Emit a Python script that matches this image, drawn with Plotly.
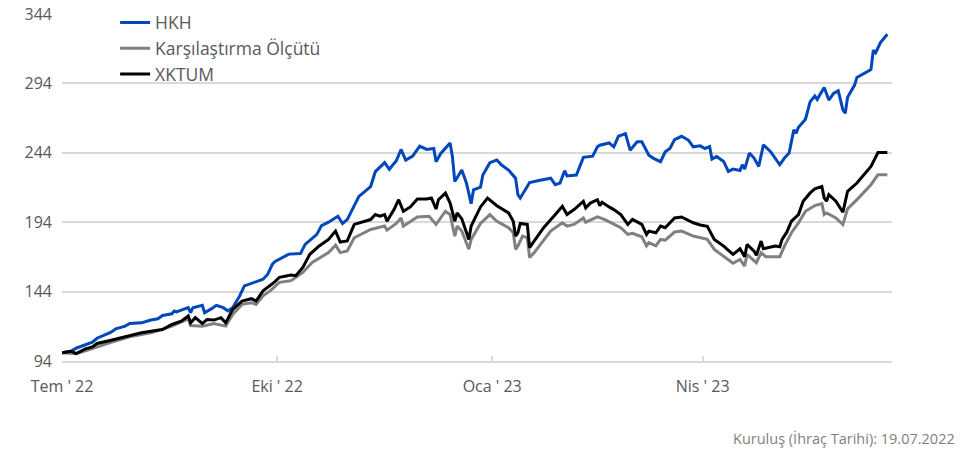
import plotly.graph_objects as go

# ---------------- data ----------------
hkh_dates = ["2022-07-19","2022-07-23","2022-07-25","2022-07-29","2022-08-01","2022-08-03","2022-08-07","2022-08-09",
             "2022-08-11","2022-08-15","2022-08-17","2022-08-22","2022-08-26","2022-08-29","2022-08-31","2022-09-04",
             "2022-09-05","2022-09-06","2022-09-08","2022-09-11","2022-09-12","2022-09-13","2022-09-17","2022-09-18",
             "2022-09-21","2022-09-23","2022-09-26","2022-09-28","2022-09-30","2022-10-03","2022-10-05","2022-10-09",
             "2022-10-13","2022-10-15","2022-10-17","2022-10-18","2022-10-20","2022-10-24","2022-10-29","2022-10-31",
             "2022-11-05","2022-11-07","2022-11-10","2022-11-12","2022-11-14","2022-11-16","2022-11-18","2022-11-23",
             "2022-11-28","2022-11-30","2022-12-04","2022-12-06","2022-12-09","2022-12-11","2022-12-13","2022-12-16",
             "2022-12-19","2022-12-22","2022-12-25","2022-12-26","2022-12-28","2023-01-01","2023-01-02","2023-01-03",
             "2023-01-06","2023-01-08","2023-01-10","2023-01-11","2023-01-14","2023-01-15","2023-01-18","2023-01-21",
             "2023-01-23","2023-01-26","2023-01-29","2023-01-30","2023-01-31","2023-02-03","2023-02-04","2023-02-08",
             "2023-02-13","2023-02-15","2023-02-17","2023-02-19","2023-02-20","2023-02-24","2023-02-26","2023-02-27",
             "2023-03-03","2023-03-05","2023-03-06","2023-03-10","2023-03-12","2023-03-14","2023-03-17","2023-03-19",
             "2023-03-22","2023-03-24","2023-03-27","2023-03-29","2023-04-01","2023-04-03","2023-04-05","2023-04-07",
             "2023-04-10","2023-04-13","2023-04-15","2023-04-18","2023-04-20","2023-04-22","2023-04-23","2023-04-25",
             "2023-04-28","2023-04-30","2023-05-02","2023-05-05","2023-05-06","2023-05-07","2023-05-09","2023-05-11",
             "2023-05-13","2023-05-15","2023-05-18","2023-05-22","2023-05-24","2023-05-26","2023-05-28","2023-05-29",
             "2023-05-30","2023-06-02","2023-06-04","2023-06-06","2023-06-07","2023-06-10","2023-06-12","2023-06-14",
             "2023-06-16","2023-06-18","2023-06-19","2023-06-20","2023-06-23","2023-06-24","2023-06-30","2023-07-01",
             "2023-07-02","2023-07-04","2023-07-07"]
hkh_values = [100.0,101.2,103.2,105.8,107.5,110.4,113.6,114.8,
              117.2,119.1,121.0,121.5,123.5,124.4,126.8,128.0,
              130.0,129.3,130.7,132.4,128.8,132.4,134.1,128.8,
              131.7,134.1,132.4,130.0,132.4,140.9,148.1,150.5,
              152.9,156.5,163.8,165.5,167.4,171.0,171.4,178.0,
              185.2,191.6,194.0,195.9,198.3,193.1,195.9,212.6,
              219.7,230.4,236.9,232.1,238.3,246.4,238.8,241.6,
              248.8,246.4,247.1,237.6,243.5,251.1,241.1,223.3,
              231.6,222.1,207.3,217.3,219.2,228.0,236.9,238.8,
              235.2,231.6,225.7,213.8,211.4,219.7,222.6,224.0,
              225.7,221.0,222.2,231.1,227.3,228.0,236.4,240.7,
              241.6,248.3,249.5,251.1,248.3,255.9,257.8,245.9,
              251.9,251.9,242.3,240.0,237.6,244.7,247.1,253.5,
              255.9,253.0,248.3,249.0,247.1,248.5,239.5,241.4,
              237.8,230.6,232.3,231.3,235.4,232.3,243.8,240.2,
              234.2,249.7,245.0,235.4,240.2,243.8,260.5,258.1,
              262.4,268.2,280.8,284.9,282.5,291.1,282.0,286.8,
              288.7,274.9,272.5,284.0,292.8,298.3,304.0,317.9,
              316.0,323.2,329.4]

bench_dates = ["2022-07-19","2022-07-25","2022-08-01","2022-08-09","2022-08-18","2022-08-26","2022-09-04","2022-09-11",
               "2022-09-12","2022-09-17","2022-09-22","2022-09-27","2022-09-30","2022-10-04","2022-10-08","2022-10-10",
               "2022-10-13","2022-10-16","2022-10-18","2022-10-20","2022-10-25","2022-10-30","2022-11-03","2022-11-10",
               "2022-11-13","2022-11-15","2022-11-18","2022-11-21","2022-11-28","2022-12-04","2022-12-05","2022-12-09",
               "2022-12-11","2022-12-12","2022-12-18","2022-12-23","2022-12-26","2022-12-30","2023-01-01","2023-01-03",
               "2023-01-04","2023-01-06","2023-01-09","2023-01-10","2023-01-14","2023-01-18","2023-01-21","2023-01-26",
               "2023-01-28","2023-01-29","2023-01-30","2023-02-01","2023-02-03","2023-02-04","2023-02-06","2023-02-13",
               "2023-02-18","2023-02-20","2023-02-23","2023-02-27","2023-02-28","2023-03-05","2023-03-08","2023-03-12",
               "2023-03-15","2023-03-18","2023-03-20","2023-03-24","2023-03-26","2023-03-27","2023-03-30","2023-04-01",
               "2023-04-03","2023-04-07","2023-04-10","2023-04-15","2023-04-18","2023-04-21","2023-04-24","2023-04-28",
               "2023-05-02","2023-05-05","2023-05-07","2023-05-08","2023-05-12","2023-05-14","2023-05-16","2023-05-22",
               "2023-05-24","2023-05-27","2023-05-30","2023-06-02","2023-06-06","2023-06-09","2023-06-10","2023-06-11",
               "2023-06-15","2023-06-18","2023-06-20","2023-06-24","2023-06-28","2023-06-30","2023-07-03","2023-07-07"]
bench_values = [100.0,99.3,102.9,107.5,111.9,114.3,119.1,124.4,
                119.6,119.1,121.0,119.1,127.6,134.8,136.0,134.8,
                140.9,144.5,147.6,150.7,151.9,157.8,165.0,172.1,
                177.4,172.1,173.3,182.8,188.8,191.2,188.3,193.1,
                197.1,191.2,197.8,198.3,192.4,201.9,199.5,184.0,
                191.2,187.6,174.5,181.6,193.1,199.5,194.7,190.0,
                186.4,174.5,176.9,184.0,182.8,168.6,172.1,187.6,
                193.6,191.2,192.4,197.1,194.0,197.8,196.0,192.4,
                190.0,185.2,186.0,183.5,176.9,179.3,176.9,181.6,
                181.1,186.9,187.6,184.0,183.0,181.6,174.4,169.6,
                164.4,167.2,162.4,170.8,164.8,172.0,169.1,169.1,
                176.8,186.4,193.5,201.9,206.0,207.4,199.5,200.7,
                197.1,192.3,203.6,210.3,217.9,221.0,228.2,228.2]

xktum_dates = ["2022-07-19","2022-07-23","2022-07-25","2022-07-29","2022-08-01","2022-08-03","2022-08-09","2022-08-13",
               "2022-08-18","2022-08-22","2022-08-26","2022-08-31","2022-09-04","2022-09-08","2022-09-11","2022-09-12",
               "2022-09-14","2022-09-17","2022-09-19","2022-09-22","2022-09-25","2022-09-27","2022-09-30","2022-10-04",
               "2022-10-08","2022-10-10","2022-10-13","2022-10-16","2022-10-18","2022-10-20","2022-10-25","2022-10-27",
               "2022-10-30","2022-11-02","2022-11-06","2022-11-10","2022-11-13","2022-11-15","2022-11-18","2022-11-21",
               "2022-11-24","2022-11-28","2022-11-30","2022-12-02","2022-12-04","2022-12-05","2022-12-08","2022-12-10",
               "2022-12-12","2022-12-15","2022-12-18","2022-12-22","2022-12-24","2022-12-26","2022-12-27","2022-12-30",
               "2023-01-01","2023-01-03","2023-01-04","2023-01-06","2023-01-09","2023-01-10","2023-01-14","2023-01-17",
               "2023-01-21","2023-01-26","2023-01-28","2023-01-29","2023-01-30","2023-01-31","2023-02-03","2023-02-04",
               "2023-02-06","2023-02-10","2023-02-15","2023-02-18","2023-02-20","2023-02-23","2023-02-27","2023-02-28",
               "2023-03-02","2023-03-05","2023-03-06","2023-03-07","2023-03-10","2023-03-12","2023-03-15","2023-03-18",
               "2023-03-20","2023-03-24","2023-03-26","2023-03-27","2023-03-30","2023-04-01","2023-04-03","2023-04-07",
               "2023-04-10","2023-04-15","2023-04-18","2023-04-21","2023-04-24","2023-04-28","2023-05-02","2023-05-05",
               "2023-05-07","2023-05-08","2023-05-11","2023-05-12","2023-05-14","2023-05-15","2023-05-20","2023-05-22",
               "2023-05-23","2023-05-25","2023-05-27","2023-05-30","2023-06-01","2023-06-04","2023-06-06","2023-06-09",
               "2023-06-10","2023-06-11","2023-06-12","2023-06-15","2023-06-18","2023-06-20","2023-06-24","2023-06-28",
               "2023-06-30","2023-07-03","2023-07-07"]
xktum_values = [100.0,101.0,99.3,102.7,104.1,106.6,109.0,110.7,
                113.1,114.3,115.5,116.7,120.3,122.7,126.4,121.5,
                125.2,121.0,123.9,123.5,125.2,121.5,131.2,137.2,
                138.9,137.2,144.5,148.1,151.0,154.3,155.9,155.5,
                161.4,170.9,176.9,181.6,187.6,179.7,180.5,192.4,
                194.0,195.9,199.5,198.3,199.5,194.7,203.1,210.2,
                201.9,205.0,210.7,210.7,211.4,203.5,210.2,215.0,
                207.8,194.7,200.7,196.4,181.6,191.2,205.0,211.4,
                205.9,200.7,194.7,184.0,186.4,193.1,192.4,175.7,
                180.5,190.0,199.5,205.4,199.5,203.1,209.0,204.3,
                207.8,210.2,205.9,208.3,205.0,203.1,199.5,192.4,
                196.0,192.4,185.2,187.6,186.4,191.2,190.0,197.1,
                197.8,193.6,192.0,191.1,181.6,176.8,170.8,174.9,
                169.1,178.0,173.2,170.1,180.4,174.9,176.8,176.3,
                181.6,186.8,194.7,199.5,209.1,215.1,218.0,219.8,
                211.5,209.1,213.9,209.1,201.2,216.3,222.2,230.6,
                234.2,244.2,244.2]

series_names = ["HKH", "Karşılaştırma Ölçütü", "XKTUM"]
y_ticks = [94, 144, 194, 244, 294, 344]
x_tick_dates = ["2022-07-19", "2022-10-19", "2023-01-19", "2023-04-19"]
x_tick_labels = ["Tem ' 22", "Eki ' 22", "Oca ' 23", "Nis ' 23"]
footnote = "Kuruluş (İhraç Tarihi): 19.07.2022"

# ---------------- figure ----------------
FONT = "Open Sans, Noto Sans, sans-serif"
TXT = "#595959"

fig = go.Figure()
fig.add_trace(go.Scatter(x=hkh_dates, y=hkh_values, name=series_names[0], mode="lines",
                         line=dict(color="#0047BB", width=3)))
fig.add_trace(go.Scatter(x=bench_dates, y=bench_values, name=series_names[1], mode="lines",
                         line=dict(color="#808080", width=3)))
fig.add_trace(go.Scatter(x=xktum_dates, y=xktum_values, name=series_names[2], mode="lines",
                         line=dict(color="#000000", width=3)))

fig.update_layout(
    width=973, height=450,
    margin=dict(l=62, r=81, t=14, b=89, autoexpand=False),
    paper_bgcolor="white", plot_bgcolor="white",
    font=dict(family=FONT, size=16, color=TXT),
    showlegend=True,
    legend=dict(x=0.064, y=1.027, xanchor="left", yanchor="top",
                bgcolor="rgba(0,0,0,0)", font=dict(size=17.5, color=TXT),
                tracegroupgap=0),
    xaxis=dict(type="date", range=["2022-07-19", "2023-07-09"],
               tickmode="array", tickvals=x_tick_dates, ticktext=x_tick_labels,
               showgrid=False, showline=True, linecolor="#d9d9d9", linewidth=1.5,
               ticks="inside", ticklen=5, tickcolor="#d9d9d9", tickwidth=1.5,
               ticklabelstandoff=10,
               tickfont=dict(size=16, color=TXT), zeroline=False),
    yaxis=dict(range=[94, 344], tickmode="array", tickvals=y_ticks,
               showgrid=True, gridcolor="#d9d9d9", gridwidth=1.5,
               showline=False, zeroline=False, ticks="", ticklabelstandoff=9,
               tickfont=dict(size=16, color=TXT)),
    annotations=[dict(text=footnote, xref="paper", yref="paper", x=1.078, y=-0.222,
                      xanchor="right", yanchor="middle", showarrow=False,
                      font=dict(size=14.5, color="#7f7f7f"))],
)

fig.write_html("out.html", config={"displayModeBar": False},
               post_script="document.body.style.margin='0';")
